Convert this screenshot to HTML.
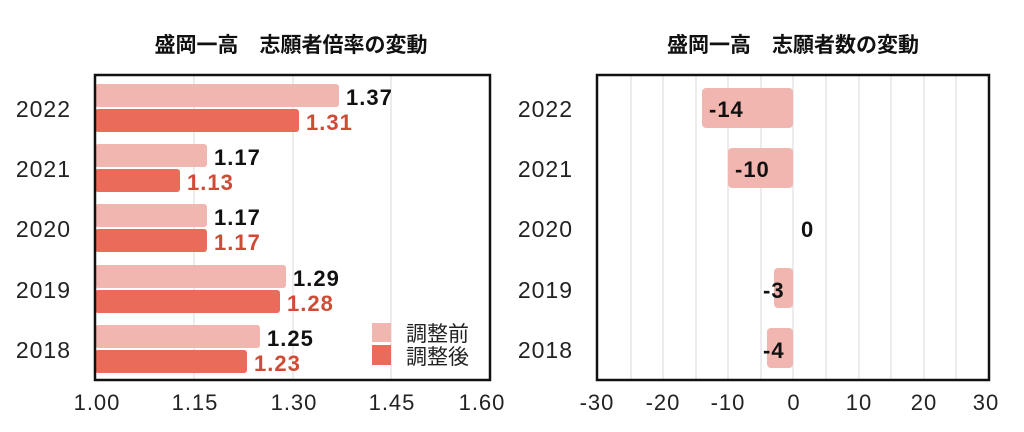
<!DOCTYPE html>
<html><head><meta charset="utf-8"><style>
body{margin:0;background:#fff}
svg{display:block}
text{font-family:"Liberation Sans","Noto Sans CJK JP",sans-serif}
</style></head><body>
<svg width="1024" height="432" viewBox="0 0 1024 432" xmlns="http://www.w3.org/2000/svg">
<rect width="1024" height="432" fill="#fff"/>
<text x="291" y="52" font-size="21" font-weight="bold" text-anchor="middle" fill="#111">盛岡一高　志願者倍率の変動</text>
<text x="793" y="52" font-size="21" font-weight="bold" text-anchor="middle" fill="#111">盛岡一高　志願者数の変動</text>
<g stroke="#d8d8d8" stroke-width="1">
<line x1="194" y1="75" x2="194" y2="380"/><line x1="293" y1="75" x2="293" y2="380"/><line x1="391" y1="75" x2="391" y2="380"/>
</g>
<g fill="#f2b6b0">
<rect x="95" y="84" width="244" height="23" rx="3"/>
<rect x="95" y="144" width="112" height="23" rx="3"/>
<rect x="95" y="204" width="112" height="23" rx="3"/>
<rect x="95" y="265" width="191" height="23" rx="3"/>
<rect x="95" y="325" width="165" height="23" rx="3"/>
</g>
<g fill="#ea6b5a">
<rect x="95" y="109" width="204" height="23" rx="3"/>
<rect x="95" y="169" width="85" height="23" rx="3"/>
<rect x="95" y="229" width="112" height="23" rx="3"/>
<rect x="95" y="290" width="185" height="23" rx="3"/>
<rect x="95" y="350" width="152" height="23" rx="3"/>
</g>
<g font-size="22" fill="#111" font-weight="bold" letter-spacing="1">
<text x="346" y="105">1.37</text><text x="214" y="165">1.17</text><text x="214" y="225">1.17</text><text x="293" y="286">1.29</text><text x="267" y="346">1.25</text>
</g>
<g font-size="22" fill="#cf4b36" font-weight="bold" letter-spacing="1">
<text x="306" y="130">1.31</text><text x="187" y="190">1.13</text><text x="214" y="250">1.17</text><text x="287" y="311">1.28</text><text x="254" y="371">1.23</text>
</g>
<rect x="372" y="323" width="19" height="19" fill="#f2b6b0"/>
<rect x="372" y="345" width="19" height="20" fill="#ea6b5a"/>
<text x="406" y="341" font-size="21" fill="#222">調整前</text>
<text x="406" y="364" font-size="21" fill="#222">調整後</text>
<rect x="95" y="75" width="395" height="305" fill="none" stroke="#111" stroke-width="2.5"/>
<g font-size="23" fill="#222" text-anchor="end" letter-spacing="1">
<text x="71" y="117">2022</text><text x="71" y="177">2021</text><text x="71" y="237">2020</text><text x="71" y="298">2019</text><text x="71" y="358">2018</text>
</g>
<g font-size="22" fill="#222" text-anchor="middle" letter-spacing="1">
<text x="97" y="410">1.00</text><text x="195" y="410">1.15</text><text x="294" y="410">1.30</text><text x="392" y="410">1.45</text><text x="482" y="410">1.60</text>
</g>
<g stroke="#d8d8d8" stroke-width="1">
<line x1="631" y1="75" x2="631" y2="380"/><line x1="663" y1="75" x2="663" y2="380"/><line x1="696" y1="75" x2="696" y2="380"/><line x1="728" y1="75" x2="728" y2="380"/><line x1="761" y1="75" x2="761" y2="380"/><line x1="793" y1="75" x2="793" y2="380"/><line x1="826" y1="75" x2="826" y2="380"/><line x1="859" y1="75" x2="859" y2="380"/><line x1="891" y1="75" x2="891" y2="380"/><line x1="924" y1="75" x2="924" y2="380"/><line x1="956" y1="75" x2="956" y2="380"/>
</g>
<g fill="#f2b6b0">
<rect x="702" y="88" width="91" height="40" rx="4"/>
<rect x="728" y="148" width="65" height="40" rx="4"/>
<rect x="774" y="268" width="19" height="40" rx="4"/>
<rect x="767" y="328" width="26" height="40" rx="4"/>
</g>
<g font-size="22" fill="#111" font-weight="bold" letter-spacing="1">
<text x="709" y="117">-14</text><text x="735" y="177">-10</text><text x="801" y="237">0</text><text x="763" y="298">-3</text><text x="763" y="358">-4</text>
</g>
<rect x="597" y="75" width="392" height="305" fill="none" stroke="#111" stroke-width="2.5"/>
<g font-size="23" fill="#222" text-anchor="end" letter-spacing="1">
<text x="573" y="117">2022</text><text x="573" y="177">2021</text><text x="573" y="237">2020</text><text x="573" y="298">2019</text><text x="573" y="358">2018</text>
</g>
<g font-size="22" fill="#222" text-anchor="middle" letter-spacing="1">
<text x="597" y="410">-30</text><text x="663" y="410">-20</text><text x="728" y="410">-10</text><text x="794" y="410">0</text><text x="859" y="410">10</text><text x="924" y="410">20</text><text x="986" y="410">30</text>
</g>
</svg>
</body></html>
